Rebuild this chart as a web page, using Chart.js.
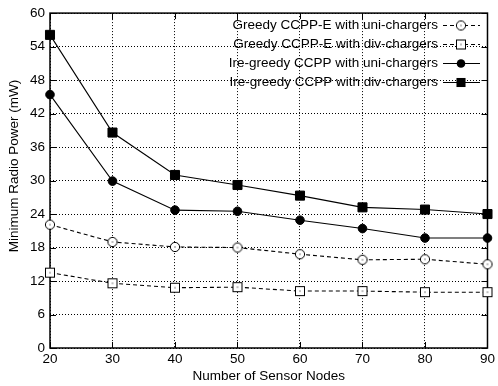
<!DOCTYPE html>
<html>
<head>
<meta charset="utf-8">
<script src="https://cdn.jsdelivr.net/npm/chart.js@4.4.1/dist/chart.umd.min.js"></script>
<style>
  html, body { margin: 0; padding: 0; background: #fff; }
  #chart { display: block; }
</style>
</head>
<body>
<canvas id="chart" width="498" height="386"></canvas>
<script>
const sensorNodes = [20, 30, 40, 50, 60, 70, 80, 90];
const greedyUni = [22.1, 19.0, 18.1, 18.0, 16.8, 15.8, 15.9, 15.0];
const greedyDiv = [13.5, 11.6, 10.8, 10.9, 10.2, 10.2, 10.0, 10.0];
const ireUni = [45.4, 29.9, 24.7, 24.5, 22.9, 21.4, 19.7, 19.7];
const ireDiv = [56.1, 38.6, 31.0, 29.2, 27.3, 25.2, 24.8, 24.0];
const seriesNames = [
  'Greedy CCPP-E with uni-chargers',
  'Greedy CCPP-E with div-chargers',
  'Ire-greedy CCPP with uni-chargers',
  'Ire-greedy CCPP with div-chargers',
];
const xTitle = 'Number of Sensor Nodes';
const yTitle = 'Minimum Radio Power (mW)';

const FONT = 'Liberation Sans, Arial, Helvetica, sans-serif';

// open gnuplot-style markers: white inside with a dot in the middle
function makeMarker(shape) {
  const c = document.createElement('canvas');
  c.width = 12;
  c.height = 12;
  const g = c.getContext('2d');
  g.fillStyle = '#fff';
  g.strokeStyle = '#000';
  g.lineWidth = 1;
  if (shape === 'circle') {
    g.beginPath();
    g.arc(6, 6, 4.6, 0, Math.PI * 2);
    g.fill();
    g.stroke();
  } else {
    g.fillRect(1, 1, 10, 10);
    g.strokeRect(1.5, 1.5, 9, 9);
  }
  g.fillStyle = '#000';
  g.fillRect(5.5, 5.5, 1, 1);
  return c;
}

const openCircle = makeMarker('circle');
const openSquare = makeMarker('square');

function toPoints(values) {
  return sensorNodes.map((x, i) => ({ x, y: values[i] }));
}

const styles = [
  { dash: [4, 3], pointStyle: openCircle, radius: 5 },
  { dash: [4, 3], pointStyle: openSquare, radius: 5 },
  { dash: [], pointStyle: 'circle', radius: 4.3 },
  { dash: [], pointStyle: 'rect', radius: 6.4 },
];

const datasets = [greedyUni, greedyDiv, ireUni, ireDiv].map((vals, i) => ({
  label: seriesNames[i],
  data: toPoints(vals),
  borderColor: '#000',
  borderWidth: 1.1,
  borderDash: styles[i].dash,
  pointStyle: styles[i].pointStyle,
  pointRadius: styles[i].radius,
  pointBackgroundColor: '#000',
  pointBorderColor: '#000',
  pointBorderWidth: 1,
  tension: 0,
  clip: false,
}));

const framePlugin = {
  id: 'frame',
  beforeDatasetsDraw(chart) {
    const { ctx, chartArea: a, scales } = chart;
    ctx.save();
    ctx.strokeStyle = '#000';
    ctx.lineWidth = 1;
    ctx.beginPath();
    scales.x.ticks.forEach((t) => {
      const px = Math.round(scales.x.getPixelForValue(t.value)) + 0.5;
      ctx.moveTo(px, a.top);
      ctx.lineTo(px, a.top + 6);
      ctx.moveTo(px, a.bottom);
      ctx.lineTo(px, a.bottom - 6);
    });
    scales.y.ticks.forEach((t) => {
      const py = Math.round(scales.y.getPixelForValue(t.value)) + 0.5;
      ctx.moveTo(a.left, py);
      ctx.lineTo(a.left + 6, py);
      ctx.moveTo(a.right, py);
      ctx.lineTo(a.right - 6, py);
    });
    ctx.stroke();
    ctx.lineWidth = 1.5;
    ctx.strokeRect(a.left, a.top, a.right - a.left, a.bottom - a.top);
    ctx.restore();
  },
  afterDraw(chart) {
    const { ctx } = chart;
    ctx.save();
    // y axis title
    ctx.translate(14, 166);
    ctx.rotate(-Math.PI / 2);
    ctx.fillStyle = '#000';
    ctx.font = '13.5px ' + FONT;
    ctx.textAlign = 'center';
    ctx.textBaseline = 'middle';
    ctx.fillText(yTitle, 0, 0);
    ctx.restore();

    // legend, text on the left and sample on the right
    ctx.save();
    ctx.font = '13.5px ' + FONT;
    ctx.textAlign = 'right';
    ctx.textBaseline = 'middle';
    seriesNames.forEach((name, i) => {
      const y = 25 + i * 19;
      ctx.fillStyle = '#000';
      ctx.fillText(name, 438, y);
      ctx.strokeStyle = '#000';
      ctx.lineWidth = 1;
      ctx.setLineDash(styles[i].dash);
      ctx.beginPath();
      ctx.moveTo(443, y + 0.5);
      ctx.lineTo(480, y + 0.5);
      ctx.stroke();
      ctx.setLineDash([]);
      const st = styles[i].pointStyle;
      const mx = 461;
      if (typeof st === 'object') {
        ctx.drawImage(st, mx - 6, y - 5.5);
      } else if (st === 'circle') {
        ctx.beginPath();
        ctx.arc(mx, y + 0.5, styles[i].radius, 0, Math.PI * 2);
        ctx.fill();
      } else {
        const s = styles[i].radius * Math.SQRT1_2;
        ctx.fillRect(mx - s, y + 0.5 - s, 2 * s, 2 * s);
      }
    });
    ctx.restore();
  },
};

const tickFont = { family: FONT, size: 13.5 };

new Chart(document.getElementById('chart'), {
  type: 'line',
  data: { datasets },
  options: {
    responsive: false,
    animation: false,
    layout: { padding: { top: 11, right: 8, left: 0, bottom: 0 } },
    plugins: {
      legend: { display: false },
      tooltip: { enabled: false },
    },
    scales: {
      x: {
        type: 'linear',
        min: 20,
        max: 90,
        ticks: { stepSize: 10, color: '#000', font: tickFont, padding: 3, maxRotation: 0 },
        grid: { color: '#000', lineWidth: 1, drawTicks: false },
        border: { display: false, dash: [1, 2] },
        title: { display: true, text: xTitle, color: '#000', font: tickFont, padding: { top: 0, bottom: 2 } },
        afterFit(scale) { scale.height = 38; },
      },
      y: {
        type: 'linear',
        min: 0,
        max: 60,
        ticks: { stepSize: 6, color: '#000', font: tickFont, padding: 5 },
        grid: { color: '#000', lineWidth: 1, drawTicks: false },
        border: { display: false, dash: [1, 2] },
        afterFit(scale) { scale.width = 50; },
      },
    },
  },
  plugins: [framePlugin],
});
</script>
</body>
</html>
